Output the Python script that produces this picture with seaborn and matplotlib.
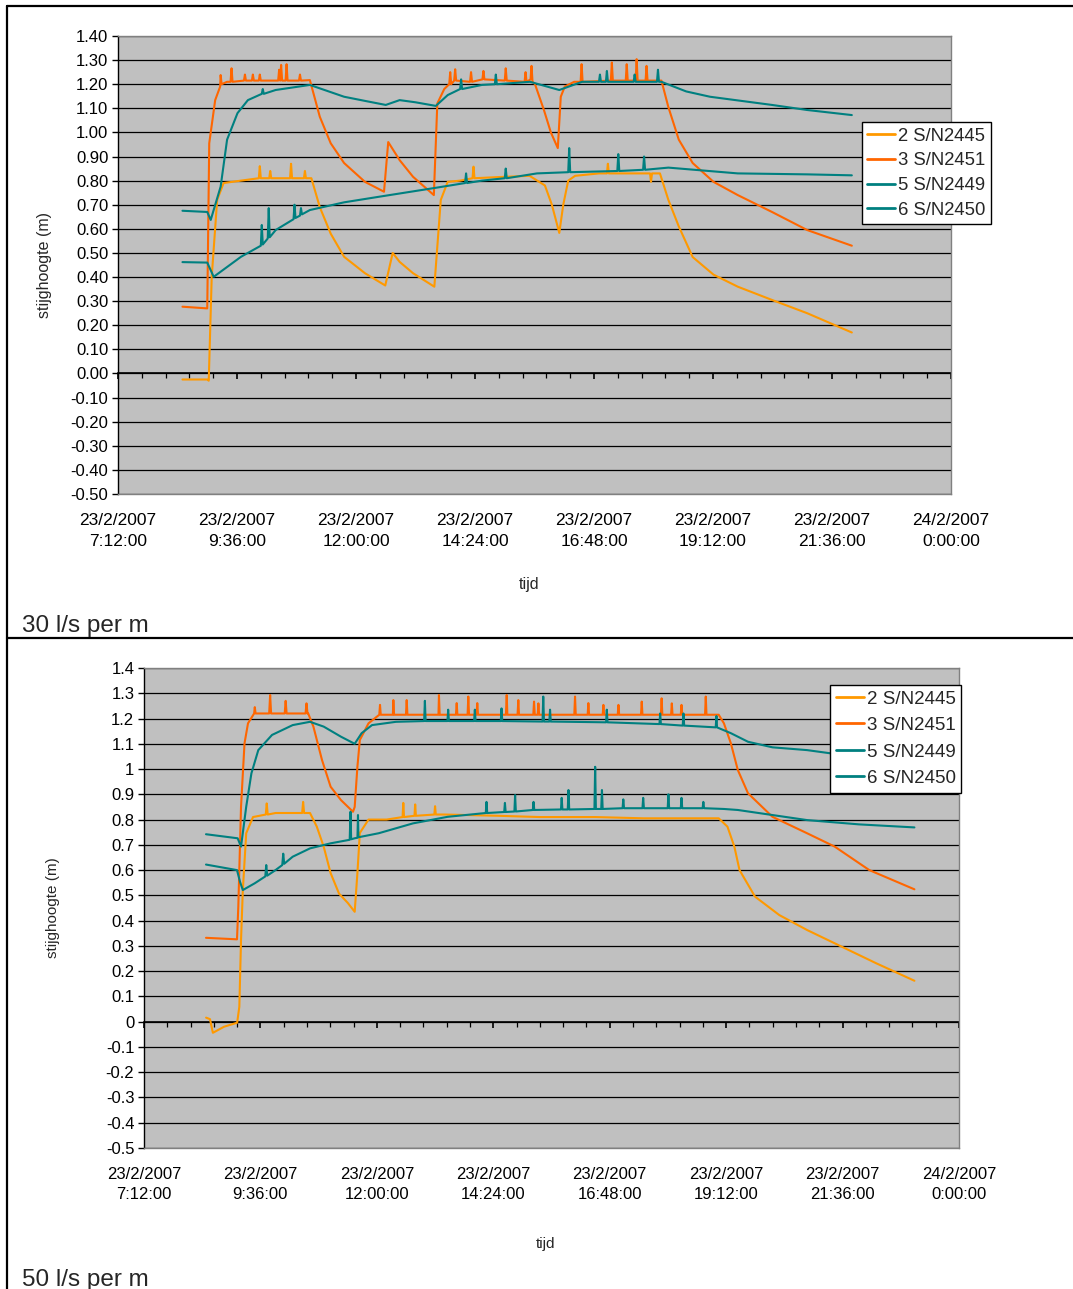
import numpy as np
import pandas as pd
import matplotlib
matplotlib.use("Agg")
import matplotlib.pyplot as plt
import seaborn as sns
from matplotlib.ticker import FixedLocator, FuncFormatter, NullFormatter
from matplotlib.lines import Line2D

# ---------------- data (time in hours of 23/2/2007, stijghoogte in m) ----------------
series_names = ["2 S/N2445", "3 S/N2451", "5 S/N2449", "6 S/N2450"]
series_colors = ["#FF9900", "#FF6600", "#008080", "#008080"]

# 30 l/s per m
top_s2 = [(8.50,-0.025),(9.00,-0.025),(9.03,-0.03),(9.09,0.40),(9.20,0.72),(9.33,0.79),(9.68,0.80),
          (10.04,0.81),(10.06,0.86),(10.08,0.81),(10.25,0.81),(10.27,0.84),(10.29,0.81),(10.67,0.81),
          (10.69,0.87),(10.71,0.81),(10.95,0.81),(10.97,0.84),(10.99,0.81),(11.10,0.81),(11.27,0.69),
          (11.49,0.58),(11.76,0.484),(12.18,0.416),(12.59,0.365),(12.74,0.50),(12.88,0.463),(13.15,0.416),
          (13.58,0.36),(13.71,0.72),(13.85,0.795),(14.10,0.80),(14.35,0.81),(14.37,0.858),(14.39,0.81),
          (14.90,0.815),(15.50,0.82),(15.81,0.78),(15.95,0.70),(16.10,0.583),(16.18,0.70),(16.28,0.80),
          (16.42,0.82),(16.90,0.83),(17.06,0.83),(17.08,0.87),(17.10,0.83),(17.50,0.83),(17.93,0.83),
          (17.95,0.795),(17.97,0.83),(18.13,0.83),(18.30,0.72),(18.51,0.61),(18.79,0.483),(19.21,0.41),
          (19.70,0.36),(20.39,0.305),(21.10,0.25),(22.00,0.17)]
top_s3 = [(8.50,0.277),(9.00,0.27),(9.04,0.955),(9.16,1.134),(9.26,1.19),(9.27,1.238),(9.29,1.20),
          (9.40,1.21),(9.47,1.21),(9.49,1.266),(9.51,1.21),(9.74,1.215),(9.76,1.24),(9.78,1.215),
          (9.90,1.215),(9.92,1.24),(9.94,1.215),(10.04,1.215),(10.06,1.24),(10.08,1.215),(10.43,1.215),
          (10.45,1.26),(10.47,1.215),(10.49,1.28),(10.51,1.215),(10.58,1.215),(10.60,1.283),(10.62,1.215),
          (10.85,1.215),(10.87,1.24),(10.89,1.215),(11.07,1.217),(11.27,1.065),(11.49,0.955),(11.76,0.873),
          (12.18,0.795),(12.565,0.754),(12.65,0.96),(12.88,0.885),(13.15,0.816),(13.57,0.74),(13.64,1.12),
          (13.78,1.18),(13.88,1.20),(13.90,1.25),(13.92,1.20),(13.98,1.215),(14.00,1.262),(14.02,1.215),
          (14.30,1.21),(14.32,1.25),(14.34,1.21),(14.55,1.22),(14.57,1.255),(14.59,1.22),(15.00,1.215),
          (15.02,1.266),(15.04,1.215),(15.40,1.21),(15.42,1.25),(15.44,1.21),(15.52,1.22),(15.54,1.276),
          (15.56,1.21),(15.61,1.20),(15.79,1.093),(15.93,1.00),(16.07,0.935),(16.13,1.148),(16.21,1.19),
          (16.40,1.21),(16.53,1.21),(16.55,1.283),(16.57,1.21),(17.14,1.215),(17.16,1.29),(17.18,1.215),
          (17.44,1.215),(17.46,1.283),(17.48,1.215),(17.64,1.215),(17.66,1.304),(17.68,1.215),(17.84,1.215),
          (17.86,1.276),(17.88,1.215),(18.16,1.215),(18.30,1.105),(18.51,0.97),(18.79,0.873),(19.21,0.795),
          (19.70,0.74),(20.39,0.67),(21.10,0.595),(22.00,0.53)]
top_s5 = [(8.50,0.675),(9.00,0.67),(9.07,0.637),(9.27,0.775),(9.40,0.97),(9.61,1.08),(9.82,1.134),
          (10.10,1.16),(10.12,1.18),(10.14,1.16),(10.38,1.176),(11.07,1.197),(11.76,1.148),(12.20,1.13),
          (12.60,1.114),(12.88,1.134),(13.20,1.125),(13.61,1.11),(13.85,1.155),(14.10,1.18),(14.12,1.22),
          (14.14,1.18),(14.54,1.197),(14.80,1.20),(14.82,1.24),(14.84,1.20),(15.51,1.21),(16.10,1.176),
          (16.56,1.21),(16.90,1.21),(16.92,1.24),(16.94,1.21),(17.04,1.21),(17.06,1.255),(17.08,1.21),
          (17.60,1.21),(17.62,1.24),(17.64,1.21),(18.07,1.21),(18.09,1.26),(18.11,1.21),(18.16,1.21),
          (18.66,1.17),(19.14,1.148),(20.39,1.114),(21.10,1.093),(22.00,1.072)]
top_s6 = [(8.50,0.462),(9.00,0.46),(9.13,0.401),(9.68,0.484),(10.08,0.53),(10.10,0.616),(10.12,0.535),
          (10.22,0.56),(10.24,0.686),(10.26,0.565),(10.38,0.595),(10.74,0.64),(10.76,0.70),(10.78,0.645),
          (10.87,0.655),(10.89,0.686),(10.91,0.66),(11.07,0.678),(11.76,0.71),(12.46,0.733),(13.60,0.77),
          (14.20,0.79),(14.22,0.83),(14.24,0.79),(14.54,0.80),(15.00,0.81),(15.02,0.85),(15.04,0.81),
          (15.65,0.83),(16.28,0.835),(16.30,0.935),(16.32,0.835),(17.27,0.84),(17.29,0.91),(17.31,0.84),
          (17.79,0.845),(17.81,0.90),(17.83,0.845),(18.30,0.854),(19.70,0.83),(21.10,0.826),(22.00,0.822)]

# 50 l/s per m
bot_s2 = [(8.48,0.016),(8.56,0.01),(8.62,-0.044),(8.85,-0.02),(9.12,-0.004),(9.165,0.059),(9.20,0.323),
          (9.237,0.52),(9.307,0.746),(9.447,0.81),(9.71,0.82),(9.73,0.864),(9.75,0.82),(9.911,0.826),
          (10.46,0.826),(10.48,0.87),(10.50,0.826),(10.622,0.826),(10.762,0.772),(10.904,0.693),
          (11.047,0.588),(11.22,0.507),(11.401,0.47),(11.543,0.435),(11.599,0.588),(11.649,0.747),
          (11.828,0.80),(12.20,0.80),(12.53,0.81),(12.545,0.866),(12.56,0.81),(12.775,0.815),(12.79,0.86),
          (12.805,0.815),(13.185,0.82),(13.20,0.853),(13.215,0.82),(13.40,0.82),(14.50,0.815),
          (15.363,0.81),(16.50,0.81),(17.50,0.805),(19.047,0.805),(19.227,0.772),(19.369,0.693),
          (19.476,0.60),(19.795,0.495),(20.296,0.422),(20.867,0.363),(21.581,0.297),(22.296,0.231),
          (23.081,0.162)]
bot_s3 = [(8.478,0.332),(9.117,0.326),(9.144,0.455),(9.20,0.851),(9.272,1.102),(9.344,1.181),(9.47,1.22),
          (9.484,1.245),(9.50,1.22),(9.78,1.22),(9.80,1.293),(9.82,1.22),(10.10,1.22),(10.12,1.27),
          (10.14,1.22),(10.53,1.22),(10.55,1.26),(10.57,1.22),(10.585,1.22),(10.692,1.168),(10.869,1.036),
          (11.047,0.93),(11.261,0.877),(11.508,0.831),(11.543,0.85),(11.599,1.009),(11.649,1.115),
          (11.828,1.181),(12.05,1.215),(12.065,1.254),(12.08,1.215),(12.33,1.215),(12.34,1.273),
          (12.355,1.215),(12.60,1.215),(12.615,1.273),(12.63,1.215),(13.27,1.215),(13.28,1.293),
          (13.295,1.215),(13.63,1.215),(13.646,1.261),(13.66,1.215),(13.87,1.215),(13.885,1.287),
          (13.90,1.215),(14.055,1.215),(14.07,1.261),(14.085,1.215),(14.66,1.215),(14.677,1.293),
          (14.69,1.215),(14.90,1.215),(14.916,1.273),(14.93,1.215),(15.225,1.215),(15.24,1.267),
          (15.255,1.215),(15.315,1.215),(15.33,1.26),(15.345,1.215),(16.07,1.215),(16.085,1.287),
          (16.10,1.215),(16.345,1.215),(16.36,1.261),(16.375,1.215),(16.655,1.215),(16.67,1.254),
          (16.685,1.215),(16.965,1.215),(16.98,1.254),(16.995,1.215),(17.445,1.215),(17.46,1.267),
          (17.475,1.215),(17.855,1.215),(17.87,1.28),(17.885,1.215),(18.065,1.215),(18.08,1.26),
          (18.095,1.215),(18.265,1.215),(18.28,1.254),(18.295,1.215),(18.765,1.215),(18.78,1.287),
          (18.795,1.215),(19.047,1.215),(19.154,1.181),(19.297,1.102),(19.441,0.996),(19.651,0.904),
          (20.154,0.811),(20.867,0.746),(21.438,0.693),(22.151,0.60),(23.081,0.524)]
bot_s5 = [(8.478,0.742),(9.13,0.726),(9.20,0.693),(9.307,0.851),(9.414,0.983),(9.556,1.075),(9.839,1.135),
          (10.265,1.174),(10.622,1.187),(10.904,1.168),(11.261,1.128),(11.543,1.10),(11.686,1.142),
          (11.90,1.174),(12.395,1.187),(12.975,1.19),(12.99,1.27),(13.005,1.19),(13.455,1.19),(13.47,1.235),
          (13.485,1.19),(14.005,1.19),(14.02,1.235),(14.035,1.19),(14.555,1.19),(14.57,1.24),(14.585,1.19),
          (15.415,1.188),(15.43,1.287),(15.445,1.188),(15.555,1.188),(15.57,1.235),(15.585,1.188),
          (16.725,1.185),(16.74,1.235),(16.755,1.185),(17.825,1.178),(17.84,1.22),(17.855,1.178),
          (18.305,1.172),(18.32,1.22),(18.335,1.172),(18.985,1.165),(19.00,1.21),(19.012,1.165),
          (19.297,1.142),(19.651,1.108),(20.154,1.086),(20.867,1.075),(21.362,1.062),(23.081,1.05)]
bot_s6 = [(8.478,0.622),(9.117,0.60),(9.179,0.554),(9.237,0.521),(9.484,0.548),(9.70,0.575),(9.72,0.62),
          (9.74,0.578),(9.911,0.60),(10.05,0.62),(10.07,0.665),(10.09,0.625),(10.265,0.653),(10.622,0.686),
          (11.047,0.706),(11.44,0.72),(11.457,0.831),(11.47,0.722),(11.543,0.726),(11.60,0.728),
          (11.611,0.818),(11.62,0.73),(12.04,0.746),(12.745,0.785),(13.46,0.811),(14.245,0.826),
          (14.26,0.87),(14.275,0.826),(14.625,0.83),(14.64,0.866),(14.655,0.83),(14.835,0.832),
          (14.85,0.897),(14.865,0.832),(15.215,0.838),(15.23,0.87),(15.245,0.838),(15.795,0.84),
          (15.81,0.886),(15.825,0.84),(15.935,0.84),(15.95,0.917),(15.965,0.84),(16.485,0.842),
          (16.50,1.009),(16.515,0.842),(16.625,0.842),(16.64,0.917),(16.655,0.842),(17.065,0.845),
          (17.08,0.88),(17.095,0.845),(17.475,0.845),(17.49,0.886),(17.505,0.845),(17.995,0.845),
          (18.01,0.90),(18.025,0.845),(18.265,0.845),(18.28,0.886),(18.295,0.845),(18.715,0.845),
          (18.73,0.87),(18.745,0.845),(19.154,0.842),(19.441,0.838),(20.154,0.818),(20.867,0.798),
          (21.939,0.781),(23.081,0.769)]

x_major_hours = [7.2, 9.6, 12.0, 14.4, 16.8, 19.2, 21.6, 24.0]
captions = ["30 l/s per m", "50 l/s per m"]

# ---------------- helpers ----------------
def to_df(lists):
    rows = []
    for name, pts in zip(series_names, lists):
        for t, v in pts:
            rows.append((name, t, v))
    return pd.DataFrame(rows, columns=["serie", "tijd", "stijghoogte"])

def xfmt(h, pos=None):
    mins = int(round(h * 60))
    day = 23 + mins // 1440
    mins = mins % 1440
    return f"{day}/2/2007\n{mins // 60}:{mins % 60:02d}:00"

def yfmt_top(v, pos=None):
    v = 0.0 if abs(v) < 1e-9 else v
    return f"{v:.2f}"

def yfmt_bot(v, pos=None):
    v = 0.0 if abs(v) < 1e-9 else round(v, 1)
    return f"{v:g}"

sns.set_theme(style="white")
plt.rcParams['font.family'] = ['Liberation Sans', 'DejaVu Sans']

W, H = 1073, 1289
fig = plt.figure(figsize=(W / 100, H / 100), dpi=100)

def px_axes(l, t, r, b):
    return fig.add_axes([l / W, 1 - b / H, (r - l) / W, (b - t) / H])

palette = dict(zip(series_names, series_colors))

def panel(ax, df, yfmt, leg_anchor, leg_fs, leg_ls, xtick_fs, xpad, linesp):
    ax.set_facecolor("#C0C0C0")
    sns.lineplot(data=df, x="tijd", y="stijghoogte", hue="serie", hue_order=series_names,
                 palette=palette, estimator=None, sort=False, lw=1.5, ax=ax)
    ax.set_xlim(7.2, 24.0)
    ax.set_ylim(-0.5, 1.4)
    yt = np.round(np.arange(-0.5, 1.4001, 0.1), 2)
    ax.yaxis.set_major_locator(FixedLocator(yt))
    ax.yaxis.set_major_formatter(FuncFormatter(yfmt))
    ax.grid(axis='y', color='black', lw=0.9)
    ax.grid(axis='x', visible=False)
    ax.xaxis.set_major_locator(FixedLocator(x_major_hours))
    ax.xaxis.set_major_formatter(FuncFormatter(xfmt))
    ax.tick_params(axis='x', bottom=True, length=0, pad=xpad, labelsize=xtick_fs, colors='black')
    ax.tick_params(axis='y', left=True, direction='out', length=4, width=1, pad=3,
                   labelsize=12, colors='black')
    for s in ['top', 'right', 'bottom']:
        ax.spines[s].set_color('#808080')
        ax.spines[s].set_linewidth(1)
    ax.spines['left'].set_color('black')
    ax.spines['left'].set_linewidth(1)
    ax.set_xlabel("")
    ax.set_ylabel("")
    for lab in ax.get_xticklabels():
        lab.set_linespacing(linesp)
    # x axis line with tick marks at y = 0
    sec = ax.secondary_xaxis(0.5 / 1.9)
    sec.xaxis.set_major_locator(FixedLocator(x_major_hours))
    sec.xaxis.set_minor_locator(FixedLocator(np.arange(7.2, 24.01, 0.48)))
    sec.xaxis.set_major_formatter(NullFormatter())
    sec.tick_params(which='major', direction='out', length=4.5, width=1.2, color='black',
                    bottom=True, labelbottom=False)
    sec.tick_params(which='minor', direction='out', length=3.5, width=0.9, color='black',
                    bottom=True)
    sec.spines['bottom'].set_color('black')
    sec.spines['bottom'].set_linewidth(1.2)
    sns.move_legend(ax, "upper left", bbox_to_anchor=leg_anchor, title=None, frameon=True,
                    fancybox=False, edgecolor='black', framealpha=1, fontsize=leg_fs,
                    handlelength=1.5, handletextpad=0.15, borderpad=0.3, labelspacing=leg_ls,
                    borderaxespad=0)
    leg = ax.get_legend()
    leg.get_frame().set_linewidth(1.0)
    leg.get_frame().set_facecolor('white')
    for ln in leg.get_lines():
        ln.set_linewidth(2)

ax1 = px_axes(118, 36, 951, 494)
panel(ax1, to_df([top_s2, top_s3, top_s5, top_s6]), yfmt_top, (0.893, 0.812), 13.3, 0.42,
      12.5, 13.5, 1.5)
ax2 = px_axes(144, 668, 959, 1148)
panel(ax2, to_df([bot_s2, bot_s3, bot_s5, bot_s6]), yfmt_bot, (0.842, 0.965), 13.5, 0.5,
      12, 13.5, 1.4)

# axis titles
fig.text(45 / W, 1 - 265 / H, "stijghoogte (m)", rotation=90, ha='center', va='center', fontsize=11.5)
fig.text(529 / W, 1 - 585 / H, "tijd", ha='center', va='center', fontsize=11.5)
fig.text(53 / W, 1 - 908 / H, "stijghoogte (m)", rotation=90, ha='center', va='center', fontsize=11)
fig.text(546 / W, 1 - 1244 / H, "tijd", ha='center', va='center', fontsize=11)

# captions
fig.text(22 / W, 1 - 632 / H, captions[0], ha='left', va='baseline', fontsize=17.5)
fig.text(22 / W, 1 - 1286 / H, captions[1], ha='left', va='baseline', fontsize=17.5)

# frame lines of the document
def fline(x0, y0, x1, y1, lw=1.6):
    fig.add_artist(Line2D([x0 / W, x1 / W], [1 - y0 / H, 1 - y1 / H], color='black', lw=lw))

fline(7, 6, W, 6)
fline(7, 6, 7, H)
fline(7, 638, W, 638)

fig.savefig("out.png", dpi=100, facecolor='white')
